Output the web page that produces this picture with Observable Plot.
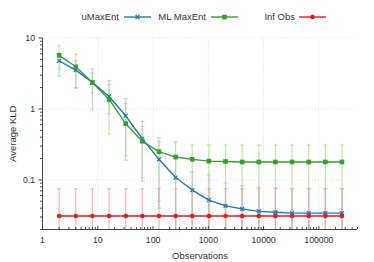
<!DOCTYPE html>
<html>
<head>
<meta charset="utf-8">
<script src="https://cdn.jsdelivr.net/npm/d3@7"></script>
<script src="https://cdn.jsdelivr.net/npm/@observablehq/plot@0.6"></script>
<style>
  html, body { margin: 0; padding: 0; background: #fff; }
  #wrap { position: relative; width: 374px; height: 262px; font-family: "Liberation Sans", Arial, sans-serif; color: #333; }
  #legend { position: relative; width: 374px; height: 30px; font-size: 9.5px; }
  #legend .item { position: absolute; top: 11px; height: 12px; line-height: 12px; }
  #legend .lab { position: absolute; top: 0; white-space: nowrap; }
  #legend svg { position: absolute; top: 0; }
</style>
</head>
<body>
<div id="wrap">
  <div id="legend"></div>
  <div id="chart"></div>
</div>
<script>
// ---- data ----
const obs = [2, 4, 8, 16, 32, 64, 128, 256, 512, 1024, 2048, 4096, 8192, 16384, 32768, 65536, 131072, 262144];

const uMaxEnt   = [4.77, 3.53, 2.37, 1.50, 0.80, 0.38, 0.195, 0.108, 0.072, 0.052, 0.043, 0.039, 0.036, 0.035, 0.034, 0.034, 0.034, 0.034];
const uMaxEntHi = [5.9, 4.8, 3.2, 2.5, 1.4, 0.67, 0.35, 0.2, 0.13, 0.118, 0.091, 0.083, 0.08, 0.077, 0.075, 0.075, 0.075, 0.075];
const uMaxEntLo = [2.9, 2.0, 1.7, 0.85, 0.19, 0.095, 0.05, 0.01, 0.01, 0.01, 0.01, 0.01, 0.01, 0.01, 0.01, 0.01, 0.01, 0.01];

const mlMaxEnt   = [5.7, 3.93, 2.35, 1.36, 0.62, 0.35, 0.25, 0.21, 0.195, 0.184, 0.182, 0.179, 0.179, 0.179, 0.179, 0.179, 0.179, 0.179];
const mlMaxEntHi = [7.9, 5.9, 3.65, 2.2, 1.2, 0.57, 0.39, 0.34, 0.31, 0.31, 0.31, 0.31, 0.31, 0.31, 0.31, 0.31, 0.31, 0.31];
const mlMaxEntLo = [3.65, 1.95, 0.98, 0.44, 0.22, 0.108, 0.04, 0.01, 0.01, 0.01, 0.01, 0.01, 0.01, 0.01, 0.01, 0.01, 0.01, 0.01];

const infObs   = [0.031, 0.031, 0.031, 0.031, 0.031, 0.031, 0.031, 0.031, 0.031, 0.031, 0.031, 0.031, 0.031, 0.031, 0.031, 0.031, 0.031, 0.031];
const infObsHi = [0.075, 0.075, 0.075, 0.075, 0.075, 0.075, 0.075, 0.075, 0.075, 0.075, 0.075, 0.075, 0.075, 0.075, 0.075, 0.075, 0.075, 0.075];
const infObsLo = [0.01, 0.01, 0.01, 0.01, 0.01, 0.01, 0.01, 0.01, 0.01, 0.01, 0.01, 0.01, 0.01, 0.01, 0.01, 0.01, 0.01, 0.01];

const seriesNames = ["uMaxEnt", "ML MaxEnt", "Inf Obs"];
const xTickValues = [1, 10, 100, 1000, 10000, 100000];
const yTickValues = [0.1, 1, 10];
const xLabel = "Observations";
const yLabel = "Average KLD";

// ---- styles ----
const colors = {"uMaxEnt": "#1f78b4", "ML MaxEnt": "#33a02c", "Inf Obs": "#e31a1c"};
const light  = {"uMaxEnt": "#a6cee3", "ML MaxEnt": "#b2df8a", "Inf Obs": "#fb9a99"};
const symbols = {"uMaxEnt": "times", "ML MaxEnt": "square", "Inf Obs": "circle"};
const radii = {"uMaxEnt": 1.9, "ML MaxEnt": 2.6, "Inf Obs": 2.3};

const table = [];
[[uMaxEnt, uMaxEntHi, uMaxEntLo], [mlMaxEnt, mlMaxEntHi, mlMaxEntLo], [infObs, infObsHi, infObsLo]].forEach((arr, si) => {
  obs.forEach((x, i) => table.push({series: seriesNames[si], x, y: arr[0][i], hi: arr[1][i], lo: arr[2][i]}));
});

const capSym = {draw(ctx, size) { const r = Math.sqrt(size / Math.PI); ctx.moveTo(-r, 0); ctx.lineTo(r, 0); }};

const xMinor = [];
for (let e = 0; e < 6; e++) for (let m = 2; m <= 9; m++) { const v = m * Math.pow(10, e); if (v <= 5e5) xMinor.push(v); }
const yMinor = [];
for (let e = -2; e < 1; e++) for (let m = 2; m <= 9; m++) { const v = m * Math.pow(10, e); if (v >= 0.02 && v <= 10) yMinor.push(v); }

const marks = [
  Plot.gridX(xTickValues.slice(1), {stroke: "#bbb", strokeOpacity: 0.5, strokeDasharray: "1,2"}),
  Plot.gridY(yTickValues, {stroke: "#bbb", strokeOpacity: 0.5, strokeDasharray: "1,2"}),
];
for (const s of seriesNames) {
  const d = table.filter(r => r.series === s);
  marks.push(Plot.ruleX(d, {x: "x", y1: "lo", y2: "hi", stroke: light[s], strokeWidth: 1.2, strokeOpacity: 0.8, clip: true}));
  marks.push(Plot.dot(d, {x: "x", y: "hi", symbol: capSym, r: 2, stroke: light[s], strokeWidth: 1.2, strokeOpacity: 0.8, clip: true}));
  marks.push(Plot.dot(d, {x: "x", y: "lo", symbol: capSym, r: 2, stroke: light[s], strokeWidth: 1.2, strokeOpacity: 0.8, clip: true}));
}
for (const s of seriesNames) {
  const d = table.filter(r => r.series === s);
  marks.push(Plot.line(d, {x: "x", y: "y", stroke: colors[s], strokeWidth: 1.4}));
  if (symbols[s] === "times") {
    marks.push(Plot.dot(d, {x: "x", y: "y", symbol: "times", r: radii[s], stroke: colors[s], strokeWidth: 1.3}));
  } else {
    marks.push(Plot.dot(d, {x: "x", y: "y", symbol: symbols[s], r: radii[s], fill: colors[s], stroke: "none"}));
  }
}
marks.push(
  Plot.ruleX([1], {stroke: "#444", strokeWidth: 1}),
  Plot.ruleY([0.02], {stroke: "#444", strokeWidth: 1}),
  // x ticks (inward)
  Plot.axisX({ticks: xTickValues, tickSize: -3, tickFormat: () => "", stroke: "#444", label: null}),
  Plot.axisX({ticks: xMinor, tickSize: -2, tickFormat: () => "", stroke: "#444", label: null}),
  Plot.axisX({ticks: xTickValues, tickSize: 0, tickPadding: 7, tickFormat: d => String(d), fill: "#333",
              label: xLabel, labelAnchor: "center", labelOffset: 29, labelArrow: "none"}),
  // y ticks (outward)
  Plot.axisY({ticks: yMinor, tickSize: 2, tickFormat: () => "", stroke: "#444", label: null}),
  Plot.axisY({ticks: yTickValues, tickSize: 3.5, tickPadding: 4, tickFormat: d => String(d), stroke: "#444", fill: "#333",
              label: yLabel, labelAnchor: "center", labelOffset: 33, labelArrow: "none"})
);

const chart = Plot.plot({
  width: 374,
  height: 232,
  marginLeft: 42,
  marginRight: 17,
  marginTop: 7.5,
  marginBottom: 33,
  x: {type: "log", domain: [1, 5e5]},
  y: {type: "log", domain: [0.02, 10]},
  style: {fontFamily: "'Liberation Sans', Arial, sans-serif", fontSize: "8.7px", color: "#333", background: "#fff", overflow: "visible"},
  marks
});
document.getElementById("chart").appendChild(chart);
chart.querySelectorAll("g[aria-label='x-axis label'] text, g[aria-label='y-axis label'] text").forEach(t => t.style.fontSize = "9.5px");

// ---- legend ----
const legendPos = [
  {name: "uMaxEnt", textRight: 119, lineX1: 124, lineX2: 151},
  {name: "ML MaxEnt", textRight: 206, lineX1: 211, lineX2: 238},
  {name: "Inf Obs", textRight: 295, lineX1: 299, lineX2: 326}
];
const legend = document.getElementById("legend");
for (const p of legendPos) {
  const item = document.createElement("div");
  item.className = "item";
  item.style.left = "0px";
  item.style.width = "374px";
  const lab = document.createElement("span");
  lab.className = "lab";
  lab.textContent = p.name;
  lab.style.right = (374 - p.textRight) + "px";
  item.appendChild(lab);
  const ns = "http://www.w3.org/2000/svg";
  const svg = document.createElementNS(ns, "svg");
  svg.setAttribute("width", p.lineX2 - p.lineX1 + 6);
  svg.setAttribute("height", 12);
  svg.style.left = (p.lineX1 - 3) + "px";
  const line = document.createElementNS(ns, "line");
  line.setAttribute("x1", 3); line.setAttribute("x2", p.lineX2 - p.lineX1 + 3);
  line.setAttribute("y1", 6); line.setAttribute("y2", 6);
  line.setAttribute("stroke", colors[p.name]); line.setAttribute("stroke-width", 1.4);
  svg.appendChild(line);
  const sym = d3.symbol(p.name === "uMaxEnt" ? d3.symbolTimes : p.name === "ML MaxEnt" ? d3.symbolSquare : d3.symbolCircle, Math.PI * radii[p.name] ** 2)();
  const path = document.createElementNS(ns, "path");
  path.setAttribute("d", sym);
  path.setAttribute("transform", `translate(${(p.lineX2 - p.lineX1) / 2 + 3},6)`);
  if (p.name === "uMaxEnt") { path.setAttribute("fill", "none"); path.setAttribute("stroke", colors[p.name]); path.setAttribute("stroke-width", 1.3); }
  else path.setAttribute("fill", colors[p.name]);
  svg.appendChild(path);
  item.appendChild(svg);
  legend.appendChild(item);
}
</script>
</body>
</html>
